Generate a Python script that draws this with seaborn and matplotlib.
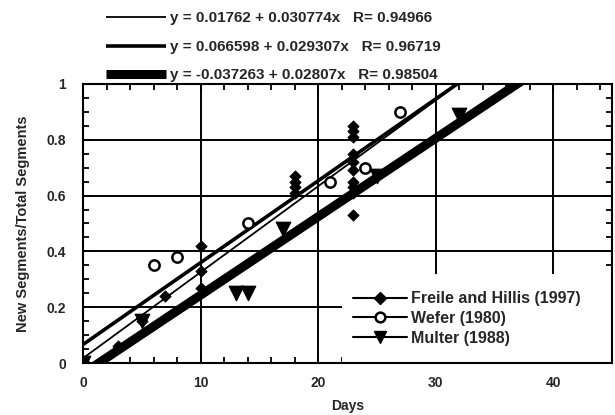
import numpy as np
import pandas as pd
import matplotlib
matplotlib.use("Agg")
import matplotlib.pyplot as plt
import seaborn as sns
from matplotlib.lines import Line2D
from matplotlib.patches import Rectangle
from matplotlib.ticker import MultipleLocator

# ---------------- data ----------------
freile_x = [0, 3, 5, 7, 10, 10, 10, 18, 18, 18, 18,
            23, 23, 23, 23, 23, 23, 23, 23, 23, 23]
freile_y = [0.0, 0.06, 0.15, 0.24, 0.42, 0.33, 0.27, 0.61, 0.63, 0.65, 0.67,
            0.53, 0.61, 0.63, 0.65, 0.69, 0.72, 0.75, 0.81, 0.83, 0.85]

wefer_x = [0, 6, 8, 14, 21, 24, 27]
wefer_y = [0.0, 0.35, 0.38, 0.50, 0.65, 0.70, 0.90]

multer_x = [0, 5, 13, 14, 17, 25, 32]
multer_y = [0.0, 0.15, 0.25, 0.25, 0.48, 0.67, 0.89]

fit_intercepts = [0.01762, 0.066598, -0.037263]
fit_slopes = [0.030774, 0.029307, 0.02807]
fit_labels = ["y = 0.01762 + 0.030774x   R= 0.94966",
              "y = 0.066598 + 0.029307x   R= 0.96719",
              "y = -0.037263 + 0.02807x   R= 0.98504"]
series_labels = ["Freile and Hillis (1997)", "Wefer (1980)", "Multer (1988)"]

x_ticks = [0, 10, 20, 30, 40]
y_ticks = [0, 0.2, 0.4, 0.6, 0.8, 1]
y_ticklabels = ["0", "0.2", "0.4", "0.6", "0.8", "1"]

# ---------------- style ----------------
sns.set_style("ticks")
plt.rcParams['font.family'] = ['Liberation Sans', 'DejaVu Sans']
plt.rcParams['font.weight'] = 'bold'
plt.rcParams['axes.labelweight'] = 'bold'

fig = plt.figure(figsize=(6.15, 4.15), dpi=100)
ax = fig.add_axes([0.135, 0.125, 0.86, 0.673])

# regression lines
line_widths = [1.3, 2.6, 6.5]
fit_handles = []
xs = np.array([0.0, 45.0])
for b, m, lw, lab in zip(fit_intercepts, fit_slopes, line_widths, fit_labels):
    df = pd.DataFrame({"x": xs, "y": b + m * xs})
    sns.lineplot(data=df, x="x", y="y", ax=ax, color="black", linewidth=lw,
                 solid_capstyle="round", zorder=3, legend=False)
    fit_handles.append(Line2D([], [], color="black", linewidth=lw,
                              solid_capstyle="butt"))

# data points
sns.scatterplot(x=freile_x, y=freile_y, ax=ax, marker="D", s=34,
                color="black", edgecolor="black", zorder=4, legend=False)
sns.scatterplot(x=wefer_x, y=wefer_y, ax=ax, marker="o", s=55,
                facecolor="white", edgecolor="black", linewidth=1.8,
                zorder=4, legend=False)
sns.scatterplot(x=multer_x, y=multer_y, ax=ax, marker="v", s=110,
                color="black", edgecolor="black", zorder=4, legend=False)

ax.set_xlim(0, 45)
ax.set_ylim(0, 1)
ax.set_xticks(x_ticks)
ax.set_yticks(y_ticks)
ax.set_yticklabels(y_ticklabels)
ax.xaxis.set_minor_locator(MultipleLocator(2))
ax.yaxis.set_minor_locator(MultipleLocator(0.05))
ax.tick_params(which="both", direction="in", top=True, right=True,
               color="black", width=1.3)
ax.tick_params(which="major", length=6, labelsize=10)
ax.tick_params(axis="x", which="major", pad=9)
ax.tick_params(axis="y", which="major", pad=12)
ax.tick_params(which="minor", length=4)
for lab in ax.get_xticklabels() + ax.get_yticklabels():
    lab.set_fontweight("bold")

ax.grid(True, which="major", color="black", linewidth=1.4)
ax.set_axisbelow(True)
for sp in ax.spines.values():
    sp.set_color("black")
    sp.set_linewidth(1.5)
    sp.set_visible(True)

ax.set_xlabel("Days", fontsize=10, fontweight="bold", labelpad=7)
ax.set_ylabel("New Segments/Total Segments", fontsize=10.5, fontweight="bold",
              labelpad=12)

# white area behind the series legend
ax.add_patch(Rectangle((0.49, 0.0), 0.51, 0.32, transform=ax.transAxes,
                       facecolor="white", edgecolor="none", zorder=1))

# series legend
ser_handles = [
    Line2D([], [], color="black", lw=1.5, marker="D", markersize=6),
    Line2D([], [], color="black", lw=1.5, marker="o", markersize=7,
           markerfacecolor="white", markeredgewidth=1.8),
    Line2D([], [], color="black", lw=1.5, marker="v", markersize=9),
]
leg = ax.legend(ser_handles, series_labels, loc="upper left",
                bbox_to_anchor=(0.495, 0.286), borderaxespad=0.0,
                frameon=False, handlelength=3.4,
                handletextpad=0.25, labelspacing=0.3, borderpad=0.5,
                prop={"size": 11.5, "weight": "bold"})
leg.set_zorder(5)

# regression legend above plot
fig.legend(fit_handles, fit_labels, loc="upper center",
           bbox_to_anchor=(0.445, 1.0), frameon=False, handlelength=3.9,
           handletextpad=0.3, labelspacing=0.95, borderpad=0.25,
           prop={"size": 11, "weight": "bold"})

fig.savefig("out.png", dpi=100)
